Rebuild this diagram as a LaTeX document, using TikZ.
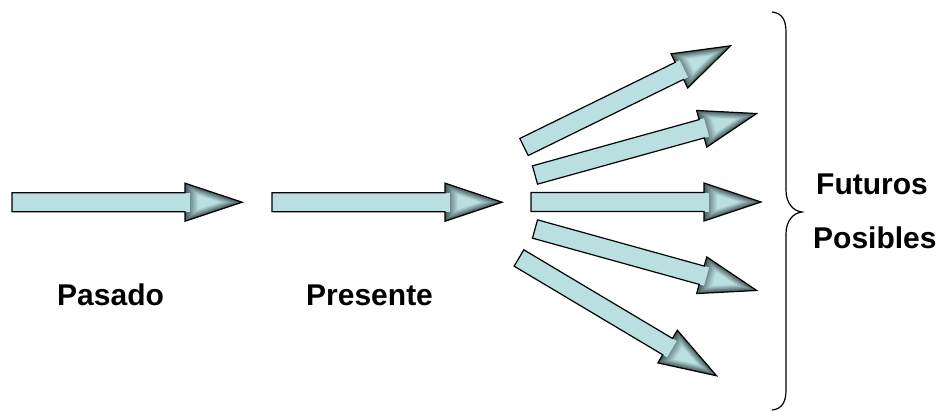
\documentclass[tikz,border=0pt]{standalone}
\usepackage{fontspec}
\setmainfont{Liberation Sans}
\definecolor{arrowfill}{HTML}{BADFE1}
\definecolor{headdark}{HTML}{44585A}
\tikzset{
  lbl/.style={font=\bfseries\fontsize{30}{32}\selectfont, inner sep=0pt, anchor=base west},
  outline/.style={draw=black, line width=1.2pt, line join=miter},
  pics/fatarrow/.style={code={
    \fill[arrowfill] (0,-9.5) -- (173,-9.5) -- (173,-19) -- (230,0) -- (173,19) -- (173,9.5) -- (0,9.5) -- cycle;
    \foreach \i [evaluate=\i as \s using 1-\i/32, evaluate=\i as \p using int(5*\i)] in {0,...,20}{
      \fill[arrowfill!\p!headdark, scale around={\s:(194,0)}] (173,-19) -- (230,0) -- (173,19) -- cycle;
    }
    \fill[arrowfill] (172,-9.5) rectangle (178,9.5);
    \path[outline] (0,-9.5) -- (173,-9.5) -- (173,-19) -- (230,0) -- (173,19) -- (173,9.5) -- (0,9.5) -- cycle;
  }}
}
\begin{document}
\begin{tikzpicture}[x=1pt, y=-1pt]
\useasboundingbox (0,0) rectangle (937,412);
\pic (pasadoarrow) at (12,202.2) {fatarrow};
\pic (presentearrow) at (272,202.2) {fatarrow};
\pic[rotate=26.1] (fut1) at (524,147) {fatarrow};
\pic[rotate=15.5] (fut2) at (535,175) {fatarrow};
\pic (fut3) at (531,202) {fatarrow};
\pic[rotate=-15.5] (fut4) at (535,229) {fatarrow};
\pic[rotate=-30.8] (fut5) at (519,258) {fatarrow};
\coordinate (bracetop) at (772,12);
\coordinate (bracetip) at (802,212);
\coordinate (bracebot) at (772,410);
\draw[line width=1.2pt] (bracetop) .. controls (782,13) and (786,20) .. (786,32) -- (786,190)
  .. controls (786,203) and (793,211) .. (bracetip)
  .. controls (793,213) and (786,221) .. (786,234) -- (786,390)
  .. controls (786,402) and (782,409) .. (bracebot);
\node[lbl] (pasado) at (57,305) {Pasado};
\node[lbl] (presente) at (306,305) {Presente};
\node[lbl] (futuros) at (816,194) {Futuros};
\node[lbl] (posibles) at (813,248) {Posibles};
\end{tikzpicture}
\end{document}
